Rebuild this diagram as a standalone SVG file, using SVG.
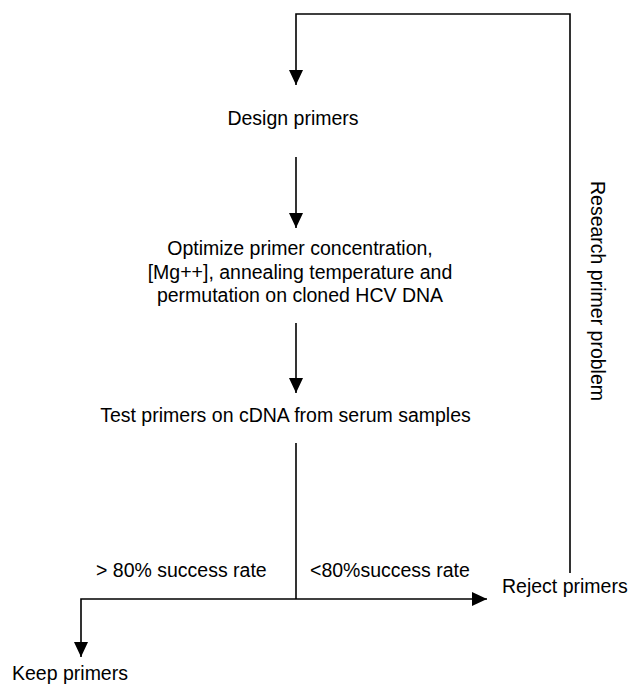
<svg xmlns="http://www.w3.org/2000/svg" width="630" height="687" viewBox="0 0 630 687">
<style>
.t{font-family:"Liberation Sans",Arial,sans-serif;font-size:19.5px;fill:#000}
.m{text-anchor:middle}
.c{fill:none;stroke:#000;stroke-width:1.6}
</style>
<defs>
<marker id="ah" markerUnits="userSpaceOnUse" markerWidth="16" markerHeight="15" refX="15" refY="7" orient="auto" viewBox="0 0 16 15">
<path d="M0,0 L15,7 L0,14 z" fill="#000"/>
</marker>
</defs>
<rect width="630" height="687" fill="#fff"/>
<g id="connectors">
<path class="c" d="M570,573 V14 H296 V85" marker-end="url(#ah)"/>
<path class="c" d="M296,157 V228" marker-end="url(#ah)"/>
<path class="c" d="M296,323 V393" marker-end="url(#ah)"/>
<path class="c" d="M296,443 V599"/>
<path class="c" d="M296,599 H487" marker-end="url(#ah)"/>
<path class="c" d="M296,599 H81 V657" marker-end="url(#ah)"/>
</g>
<g id="design"><text class="t m" x="293" y="125">Design primers</text></g>
<g id="optimize">
<text class="t m" x="300" y="255">Optimize primer concentration,</text>
<text class="t m" x="300" y="279">[Mg++], annealing temperature and</text>
<text class="t m" x="300" y="302">permutation on cloned HCV DNA</text>
</g>
<g id="test"><text class="t m" x="285.5" y="422">Test primers on cDNA from serum samples</text></g>
<g id="label-high"><text class="t" x="96" y="577">&gt; 80% success rate</text></g>
<g id="label-low"><text class="t" x="310" y="577">&lt;80%success rate</text></g>
<g id="reject"><text class="t" x="502" y="593">Reject primers</text></g>
<g id="keep"><text class="t" x="12" y="680">Keep primers</text></g>
<g id="label-research"><text class="t m" transform="translate(591,291) rotate(90)" x="0" y="0">Research primer problem</text></g>
</svg>
